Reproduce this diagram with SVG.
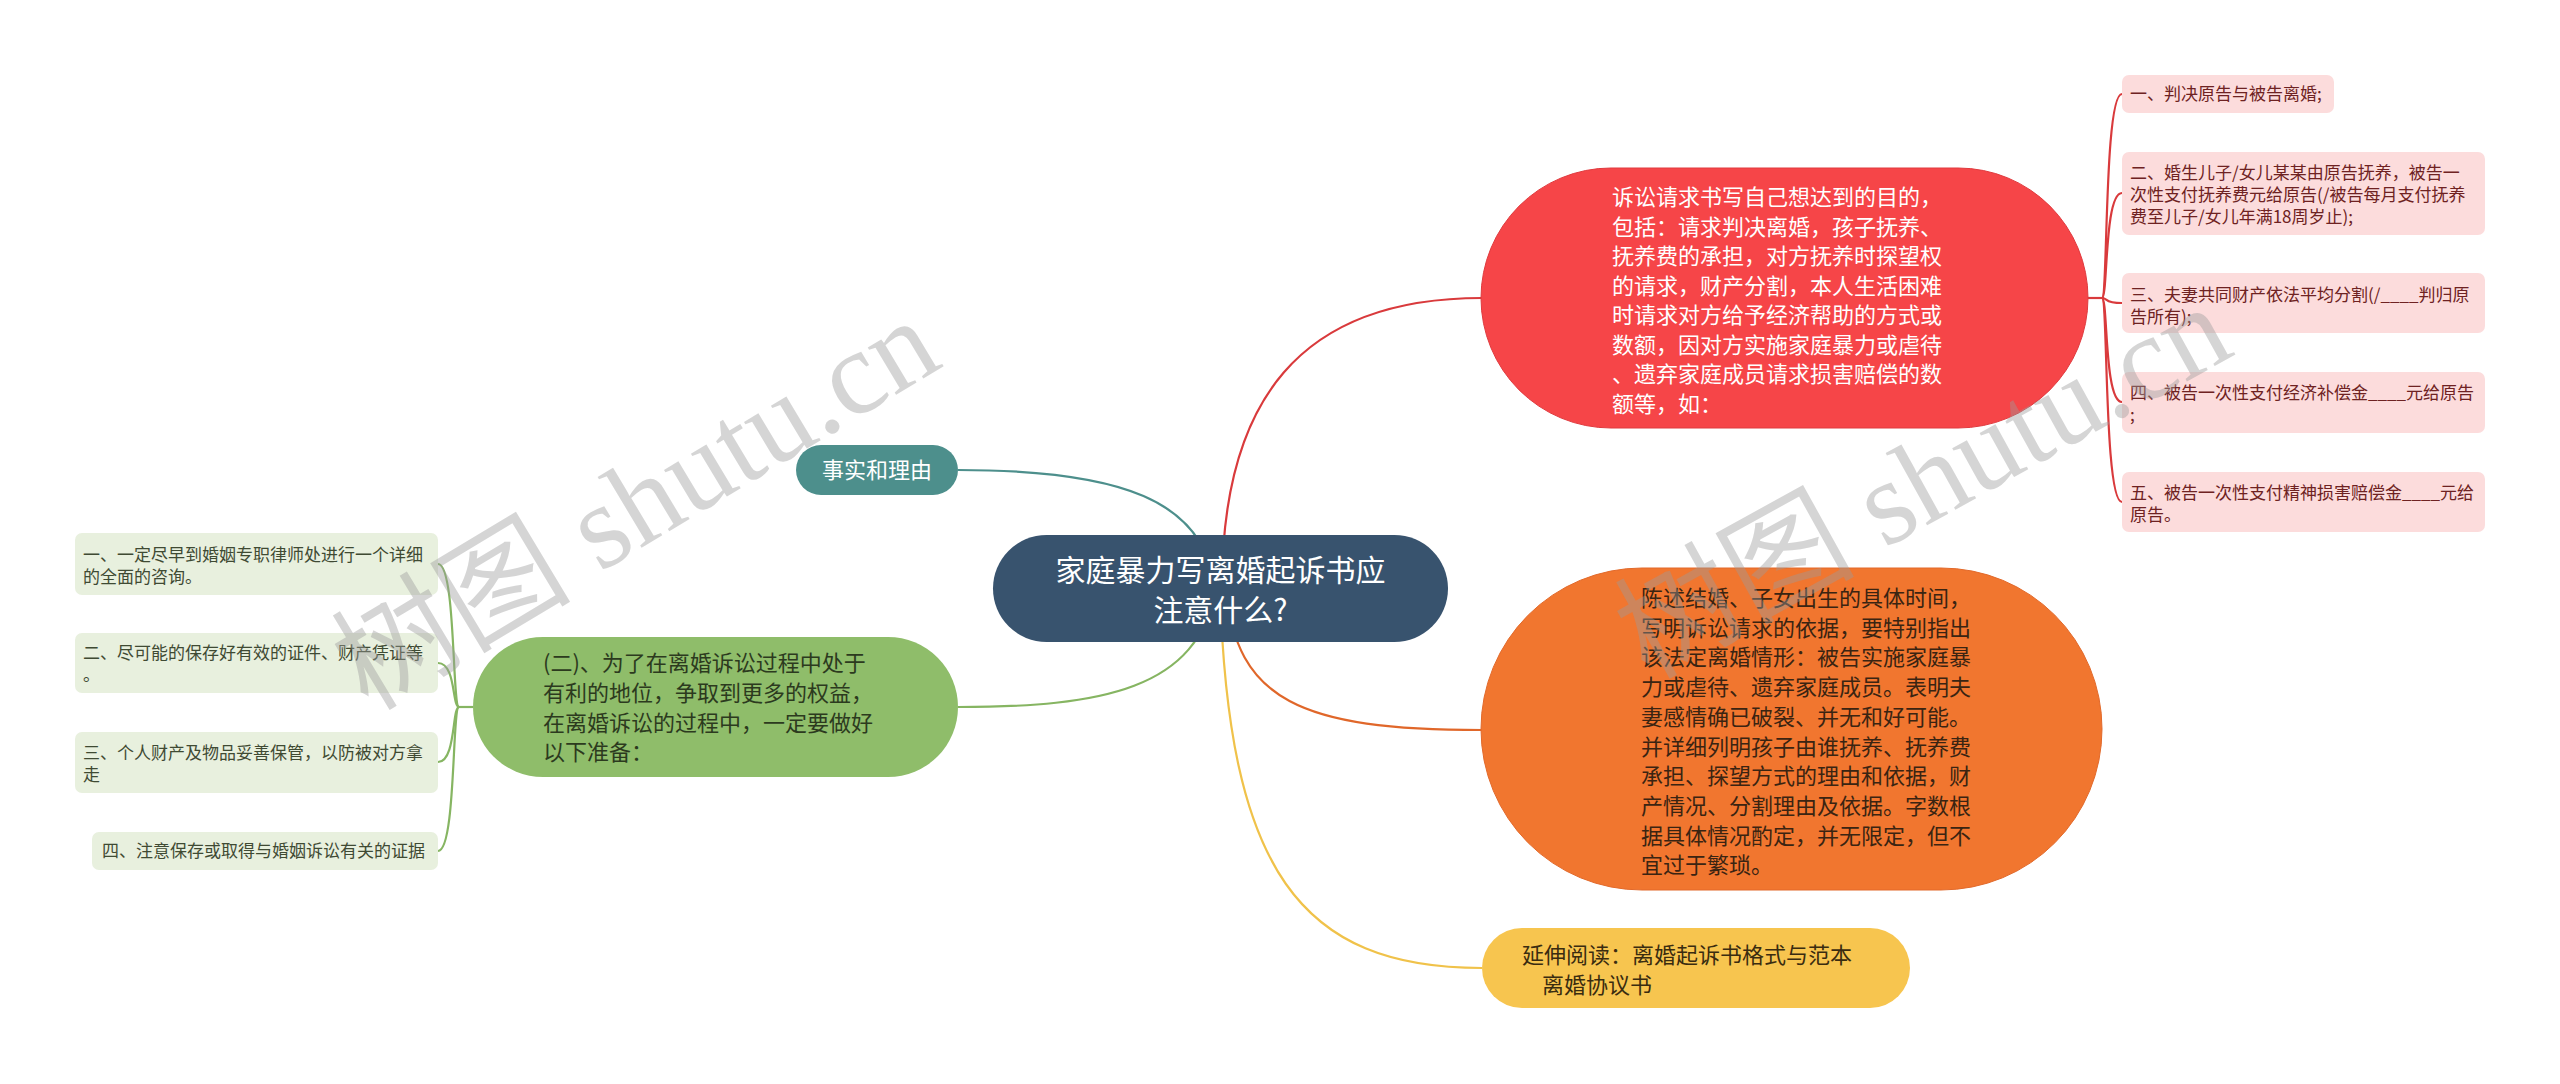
<svg xmlns="http://www.w3.org/2000/svg" width="2560" height="1084" viewBox="0 0 2560 1084">
<style>
  text { font-family: "Noto Sans CJK SC", "Noto Sans", sans-serif; }
  .conn { fill: none; stroke-width: 2.2; }
  .leafL rect { fill: #e8f0de; }
  .leafL text { font-size: 17px; fill: #3f4a33; }
  .leafR rect { fill: #fcdcdc; }
  .leafR text { font-size: 17px; fill: #6e2222; }
  .wm { font-family: "Liberation Serif", "Noto Sans CJK SC", serif; font-size: 120px; fill: #9a9a9a; fill-opacity: 0.42; }
</style>
<rect width="2560" height="1084" fill="#ffffff"/>

<g id="connectors">
  <path class="conn" stroke="#4d8f8c" d="M 958 470 C 1120 470, 1205 500, 1215 588"/>
  <path class="conn" stroke="#d93a3c" d="M 1222 588 C 1222 400, 1300 298, 1482 298"/>
  <path class="conn" stroke="#e0672a" d="M 1226 588 C 1236 700, 1300 730, 1482 730"/>
  <path class="conn" stroke="#f0c24a" d="M 1220 588 C 1228 870, 1300 968, 1482 968"/>
  <path class="conn" stroke="#86b562" d="M 1215 588 C 1200 690, 1100 707, 958 707"/>
  <path class="conn" stroke="#d93a3c" d="M 2088 298 H 2104"/>
  <path class="conn" stroke="#d93a3c" d="M 2102 298 C 2108 298, 2104 94, 2122 94"/>
  <path class="conn" stroke="#d93a3c" d="M 2102 298 C 2108 298, 2104 193, 2122 193"/>
  <path class="conn" stroke="#d93a3c" d="M 2102 298 C 2108 298, 2104 303, 2122 303"/>
  <path class="conn" stroke="#d93a3c" d="M 2102 298 C 2108 298, 2104 402, 2122 402"/>
  <path class="conn" stroke="#d93a3c" d="M 2102 298 C 2108 298, 2104 502, 2122 502"/>
  <path class="conn" stroke="#86b562" d="M 473 707 H 457"/>
  <path class="conn" stroke="#86b562" d="M 459 707 C 452 707, 456 564, 438 564"/>
  <path class="conn" stroke="#86b562" d="M 459 707 C 452 707, 456 663, 438 663"/>
  <path class="conn" stroke="#86b562" d="M 459 707 C 452 707, 456 762, 438 762"/>
  <path class="conn" stroke="#86b562" d="M 459 707 C 452 707, 456 851, 438 851"/>
</g>

<g id="central">
  <rect x="993" y="535" width="455" height="107" rx="53.5" fill="#38536e"/>
  <text x="1220.5" y="581" font-size="30" fill="#ffffff" text-anchor="middle">家庭暴力写离婚起诉书应</text>
  <text x="1220.5" y="621" font-size="30" fill="#ffffff" text-anchor="middle">注意什么?</text>
</g>

<g id="n-red">
  <rect x="1481" y="168" width="607" height="260" rx="130" fill="#f64548" stroke="#e03a3e" stroke-width="1"/>
  <text fill="#ffffff" font-size="22">
    <tspan x="1612" y="205">诉讼请求书写自己想达到的目的，</tspan>
    <tspan x="1612" y="234.5">包括：请求判决离婚，孩子抚养、</tspan>
    <tspan x="1612" y="264">抚养费的承担，对方抚养时探望权</tspan>
    <tspan x="1612" y="293.5">的请求，财产分割，本人生活困难</tspan>
    <tspan x="1612" y="323">时请求对方给予经济帮助的方式或</tspan>
    <tspan x="1612" y="352.5">数额，因对方实施家庭暴力或虐待</tspan>
    <tspan x="1612" y="382">、遗弃家庭成员请求损害赔偿的数</tspan>
    <tspan x="1612" y="411.5">额等，如：</tspan>
  </text>
</g>

<g id="n-red-1" class="leafR">
  <rect x="2122" y="75" width="212" height="38" rx="7"/>
  <text x="2130" y="100">一、判决原告与被告离婚;</text>
</g>
<g id="n-red-2" class="leafR">
  <rect x="2122" y="152" width="363" height="83" rx="7"/>
  <text><tspan x="2130" y="179">二、婚生儿子/女儿某某由原告抚养，被告一</tspan><tspan x="2130" y="201">次性支付抚养费元给原告(/被告每月支付抚养</tspan><tspan x="2130" y="223">费至儿子/女儿年满18周岁止);</tspan></text>
</g>
<g id="n-red-3" class="leafR">
  <rect x="2122" y="273" width="363" height="60" rx="7"/>
  <text><tspan x="2130" y="301">三、夫妻共同财产依法平均分割(/____判归原</tspan><tspan x="2130" y="323">告所有);</tspan></text>
</g>
<g id="n-red-4" class="leafR">
  <rect x="2122" y="372" width="363" height="61" rx="7"/>
  <text><tspan x="2130" y="399">四、被告一次性支付经济补偿金____元给原告</tspan><tspan x="2130" y="421">;</tspan></text>
</g>
<g id="n-red-5" class="leafR">
  <rect x="2122" y="472" width="363" height="60" rx="7"/>
  <text><tspan x="2130" y="499">五、被告一次性支付精神损害赔偿金____元给</tspan><tspan x="2130" y="521">原告。</tspan></text>
</g>

<g id="n-orange">
  <rect x="1481" y="568" width="621" height="322" rx="161" fill="#f1762f" stroke="#e2692a" stroke-width="1"/>
  <text fill="#3a2412" font-size="22">
    <tspan x="1641" y="606">陈述结婚、子女出生的具体时间，</tspan>
    <tspan x="1641" y="635.7">写明诉讼请求的依据，要特别指出</tspan>
    <tspan x="1641" y="665.4">该法定离婚情形：被告实施家庭暴</tspan>
    <tspan x="1641" y="695.1">力或虐待、遗弃家庭成员。表明夫</tspan>
    <tspan x="1641" y="724.8">妻感情确已破裂、并无和好可能。</tspan>
    <tspan x="1641" y="754.5">并详细列明孩子由谁抚养、抚养费</tspan>
    <tspan x="1641" y="784.2">承担、探望方式的理由和依据，财</tspan>
    <tspan x="1641" y="813.9">产情况、分割理由及依据。字数根</tspan>
    <tspan x="1641" y="843.6">据具体情况酌定，并无限定，但不</tspan>
    <tspan x="1641" y="873.3">宜过于繁琐。</tspan>
  </text>
</g>

<g id="n-yellow">
  <rect x="1482" y="928" width="428" height="80" rx="40" fill="#f7c54f"/>
  <text fill="#3a2c10" font-size="22"><tspan x="1522" y="963">延伸阅读：离婚起诉书格式与范本</tspan><tspan x="1542" y="993">离婚协议书</tspan></text>
</g>

<g id="n-teal">
  <rect x="796" y="445" width="162" height="50" rx="25" fill="#4d8f8c"/>
  <text x="877" y="478" fill="#ffffff" font-size="22" text-anchor="middle">事实和理由</text>
</g>

<g id="n-green">
  <rect x="473" y="637" width="485" height="140" rx="70" fill="#8fbd6a"/>
  <text fill="#2c3a1e" font-size="22">
    <tspan x="543" y="671">(二)、为了在离婚诉讼过程中处于</tspan>
    <tspan x="543" y="701">有利的地位，争取到更多的权益，</tspan>
    <tspan x="543" y="731">在离婚诉讼的过程中，一定要做好</tspan>
    <tspan x="543" y="760">以下准备：</tspan>
  </text>
</g>

<g id="n-green-1" class="leafL">
  <rect x="75" y="533" width="363" height="62" rx="7"/>
  <text><tspan x="83" y="561">一、一定尽早到婚姻专职律师处进行一个详细</tspan><tspan x="83" y="583">的全面的咨询。</tspan></text>
</g>
<g id="n-green-2" class="leafL">
  <rect x="75" y="633" width="363" height="60" rx="7"/>
  <text><tspan x="83" y="659">二、尽可能的保存好有效的证件、财产凭证等</tspan><tspan x="83" y="681">。</tspan></text>
</g>
<g id="n-green-3" class="leafL">
  <rect x="75" y="732" width="363" height="61" rx="7"/>
  <text><tspan x="83" y="759">三、个人财产及物品妥善保管，以防被对方拿</tspan><tspan x="83" y="781">走</tspan></text>
</g>
<g id="n-green-4" class="leafL">
  <rect x="92" y="832" width="346" height="38" rx="7"/>
  <text x="102" y="857">四、注意保存或取得与婚姻诉讼有关的证据</text>
</g>

<g id="watermarks">
  <text class="wm" x="368" y="712" transform="rotate(-31 368 712)">树图 shutu.cn</text>
  <text class="wm" x="1648" y="680" transform="rotate(-29 1648 680)">树图 shutu.cn</text>
</g>
</svg>
